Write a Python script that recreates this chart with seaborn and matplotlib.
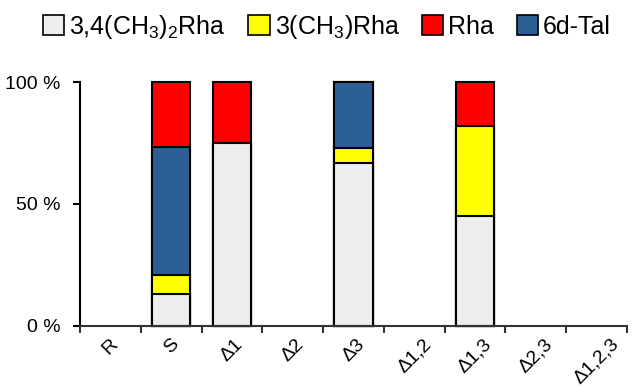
import pandas as pd
import seaborn as sns
import matplotlib.pyplot as plt
from matplotlib.patches import Patch

categories = ["R", "S", "Δ1", "Δ2", "Δ3", "Δ1,2", "Δ1,3", "Δ2,3", "Δ1,2,3"]
# share (%) of each sugar, only for strains that have a bar
strains = ["S", "Δ1", "Δ3", "Δ1,3"]
dimethyl = [13, 75, 67, 45]
methyl = [8, 0, 6, 37]
tal = [52.5, 0, 27, 0]
rha = [26.5, 25, 0, 18]

series_names = [r"3,4(CH$_3$)$_2$Rha", r"3(CH$_3$)Rha", "Rha", "6d-Tal"]
colors = {"dimethyl": "#EDEDED", "methyl": "#FFFF00", "rha": "#FF0000", "tal": "#2D5F97"}

df = pd.DataFrame({"strain": strains, "dimethyl": dimethyl, "methyl": methyl,
                   "tal": tal, "rha": rha})
# stacking order bottom -> top: dimethyl, methyl, tal, rha
stack = ["dimethyl", "methyl", "tal", "rha"]
cum = df[stack].cumsum(axis=1)
cum["strain"] = df["strain"]

plt.rcParams["font.family"] = ["Liberation Sans", "DejaVu Sans"]
plt.rcParams["mathtext.fontset"] = "custom"
plt.rcParams["mathtext.rm"] = "Liberation Sans"
plt.rcParams["mathtext.default"] = "regular"

fig = plt.figure(figsize=(6.35, 3.87), dpi=100)
ax = fig.add_axes([80 / 635, 1 - 325.7 / 387, 547 / 635, 243.4 / 387])

# draw cumulative bars from the top layer down
for key in reversed(stack):
    sns.barplot(data=cum, x="strain", y=key, order=categories, color=colors[key],
                width=0.63, edgecolor="black", linewidth=1.5, errorbar=None,
                saturation=1, ax=ax)

ax.set_xlim(-0.5, len(categories) - 0.5)
ax.set_ylim(0, 100)
ax.set_xlabel("")
ax.set_ylabel("")
ax.set_yticks([0, 50, 100])
ax.set_yticklabels(["0 %", "50 %", "100 %"], fontsize=14)
ax.set_xticks(range(len(categories)))
ax.set_xticklabels(categories, rotation=45, fontsize=14)
ax.tick_params(axis="x", length=0, pad=7)
ax.set_xticks([i - 0.5 for i in range(len(categories) + 1)], minor=True)
ax.tick_params(axis="x", which="minor", length=5, width=1.5, color="#333333", direction="out")
ax.tick_params(axis="y", length=5, width=1.5, pad=9, direction="out")

for side in ["top", "right"]:
    ax.spines[side].set_visible(False)
ax.spines["left"].set_linewidth(1.5)
ax.spines["left"].set_color("black")
ax.spines["bottom"].set_linewidth(1.5)
ax.spines["bottom"].set_color("#333333")
for p in ax.patches:
    p.set_clip_on(False)

handles = [Patch(facecolor=colors[k], edgecolor="black", linewidth=1.2)
           for k in ["dimethyl", "methyl", "rha", "tal"]]
fig.legend(handles, series_names, loc="center", bbox_to_anchor=(327 / 635, 1 - 27 / 387),
           ncol=4, frameon=False, fontsize=18, handlelength=0.85, handleheight=0.85,
           handletextpad=0.2, columnspacing=0.9, borderpad=0, borderaxespad=0)

fig.savefig("out.png", dpi=100)
